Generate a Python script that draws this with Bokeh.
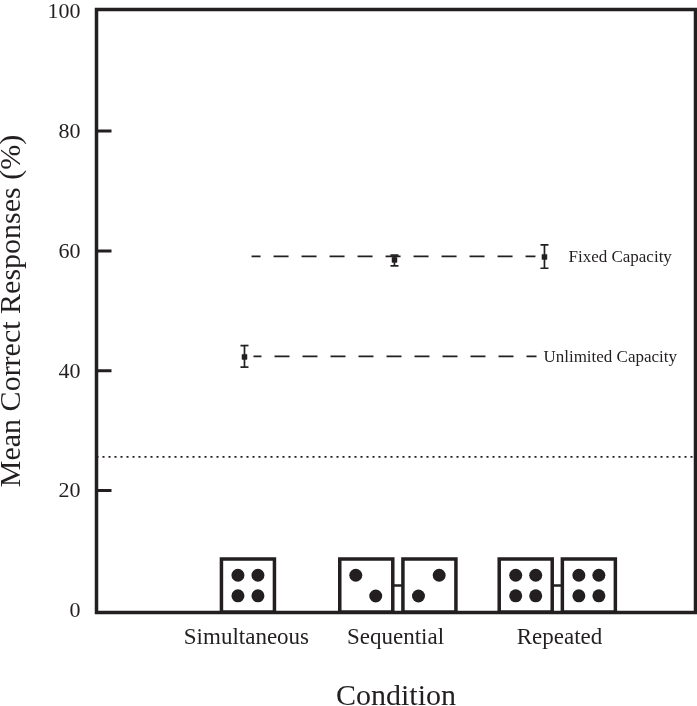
from bokeh.plotting import figure
from bokeh.models import Range1d, FixedTicker, Span
from bokeh.core.properties import value
from bokeh.embed import file_html
from bokeh.resources import INLINE

INK = "#231f20"
SERIF = "Liberation Serif"

# chart values
positions = [1, 2, 3]
means = [42.3, 58.5, 59.0]
err_low = [40.6, 57.5, 57.1]
err_high = [44.2, 59.3, 61.0]
fixed_x = [1.047, 2.94]
fixed_y = [59.1, 59.1]
unlimited_x = [1.06, 2.947]
unlimited_y = [42.4, 42.4]
chance_level = 25.6
line_names = ["Fixed Capacity", "Unlimited Capacity"]
line_name_x = [3.16, 2.993]
line_name_y = [59.1, 42.4]
y_ticks = [0, 20, 40, 60, 80, 100]
inner_ticks = [20, 40, 60, 80]
category_names = ["Simultaneous", "Sequential", "Repeated"]
category_label_x = [1.013, 2.007, 3.1]
y_title = "Mean Correct Responses (%)"
x_title = "Condition"

# stimulus dice: centres, half-sizes, and dot offsets in data units
die_cx = [1.023, 1.812, 2.233, 2.875, 3.296]
die_cy = 4.13
die_hx = 0.1767
die_hy = 4.42
four = [(-0.0667, 1.72), (0.0667, 1.72), (-0.0667, -1.72), (0.0667, -1.72)]
die_dots = [
    four,
    [(-0.07, 1.72), (0.063, -1.75)],
    [(0.065, 1.72), (-0.073, -1.75)],
    four,
    four,
]
link_x = [(1.989, 2.056), (3.052, 3.119)]
link_y = 4.13

p = figure(
    width=708, height=717,
    x_range=Range1d(0.0133, 4.007), y_range=Range1d(-0.37, 100.3),
    output_backend="svg", toolbar_location=None,
    min_border_left=107, min_border_right=2, min_border_top=9, min_border_bottom=105,
    background_fill_color="white", border_fill_color="white",
)
p.styles = {"position": "fixed", "left": "-11px", "top": "0px"}
p.grid.visible = False
p.outline_line_color = INK
p.outline_line_width = 3.5
p.outline_line_alpha = 1
p.outline_line_join = "miter"

ya = p.yaxis[0]
ya.ticker = FixedTicker(ticks=y_ticks)
ya.axis_label = y_title
ya.axis_label_text_font = SERIF
ya.axis_label_text_font_style = "normal"
ya.axis_label_text_font_size = "30px"
ya.axis_label_text_color = INK
ya.axis_label_standoff = 19
ya.major_label_text_font = SERIF
ya.major_label_text_font_size = "22px"
ya.major_label_text_color = INK
ya.major_label_standoff = 10
ya.major_tick_line_color = None
ya.minor_tick_line_color = None
ya.axis_line_color = None

xa = p.xaxis[0]
xa.ticker = FixedTicker(ticks=category_label_x)
xa.major_label_overrides = dict(zip(category_label_x, category_names))
xa.axis_label = x_title
xa.axis_label_text_font = SERIF
xa.axis_label_text_font_style = "normal"
xa.axis_label_text_font_size = "30px"
xa.axis_label_text_color = INK
xa.axis_label_standoff = 26
xa.major_label_text_font = SERIF
xa.major_label_text_font_size = "23px"
xa.major_label_text_color = INK
xa.major_label_standoff = 5
xa.major_tick_line_color = None
xa.minor_tick_line_color = None
xa.axis_line_color = None

# inward ticks
p.ray(x=[p.x_range.start] * len(inner_ticks), y=inner_ticks, length=15,
      length_units="screen", angle=0, line_color=INK, line_width=3)

# chance line
p.add_layout(Span(location=chance_level, dimension="width", line_color=INK,
                  line_width=1.8, line_dash="2 4"))

# model lines
p.line(fixed_x, fixed_y, line_color=INK, line_width=1.8, line_dash="15 13", line_dash_offset=6)
p.line(unlimited_x, unlimited_y, line_color=INK, line_width=1.8, line_dash="15 13", line_dash_offset=7)
p.text(line_name_x, line_name_y, text=line_names, text_font=value(SERIF),
       text_font_size="17px", text_color=INK, text_align="left", text_baseline="middle")

# means with error bars
p.segment(positions, err_low, positions, err_high, line_color=INK, line_width=1.7)
p.scatter(positions, err_low, marker="dash", size=8, line_color=INK, line_width=1.7)
p.scatter(positions, err_high, marker="dash", size=8, line_color=INK, line_width=1.7)
p.scatter(positions, means, marker="square", size=5, fill_color=INK, line_color=INK, line_width=0.5)

# dice
p.quad(left=[c - die_hx for c in die_cx], right=[c + die_hx for c in die_cx],
       bottom=[die_cy - die_hy] * len(die_cx), top=[die_cy + die_hy] * len(die_cx),
       fill_color="white", line_color=INK, line_width=3.5, line_join="miter")
dot_x = [c + dx for c, dots in zip(die_cx, die_dots) for dx, _ in dots]
dot_y = [die_cy + dy for dots in die_dots for _, dy in dots]
p.scatter(dot_x, dot_y, marker="circle", size=13, fill_color=INK, line_color=None)
for a, b in link_x:
    p.line([a, b], [link_y, link_y], line_color=INK, line_width=2.5)

open("out.html", "w").write(file_html(p, INLINE))
